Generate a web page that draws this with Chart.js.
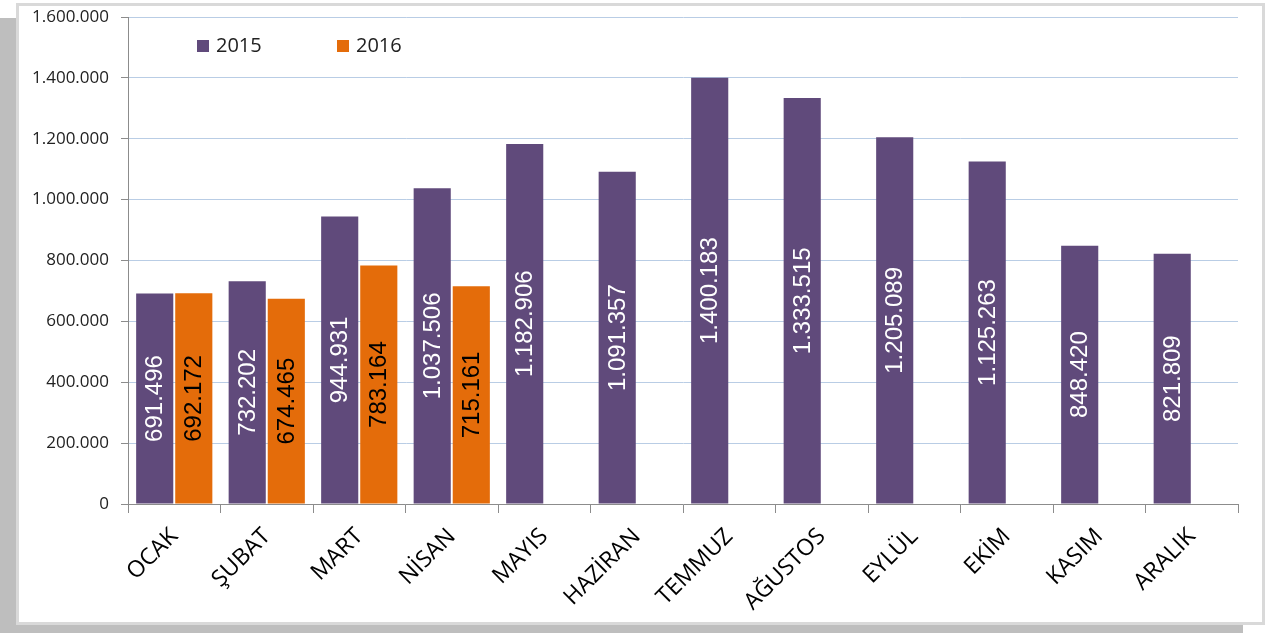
<!DOCTYPE html>
<html>
<head>
<meta charset="utf-8">
<script src="https://cdn.jsdelivr.net/npm/chart.js@4/dist/chart.umd.min.js"></script>
<style>
  html, body { margin: 0; padding: 0; background: #fff; }
  #wrap { position: relative; width: 1275px; height: 633px; overflow: hidden; }
  #shadow { position: absolute; left: 0; top: 18px; width: 1243px; height: 615px; background: #bebebe; }
  #panel { position: absolute; left: 16px; top: 3px; width: 1243px; height: 616px; background: #fff; border: 3px solid #d9d9d9; }
  #chart { position: absolute; left: 0; top: 0; }
</style>
</head>
<body>
<div id="wrap">
  <div id="shadow"></div>
  <div id="panel"></div>
  <canvas id="chart" width="1275" height="633"></canvas>
</div>
<script>
// aylar
const months = ['OCAK', 'ŞUBAT', 'MART', 'NİSAN', 'MAYIS', 'HAZİRAN', 'TEMMUZ', 'AĞUSTOS', 'EYLÜL', 'EKİM', 'KASIM', 'ARALIK'];

// 2015 değerleri
const values2015 = [691496, 732202, 944931, 1037506, 1182906, 1091357, 1400183, 1333515, 1205089, 1125263, 848420, 821809];

// 2016 değerleri (ilk dört ay)
const values2016 = [692172, 674465, 783164, 715161, null, null, null, null, null, null, null, null];

const seriesNames = ['2015', '2016'];
const seriesColors = ['#604a7b', '#e46c0a'];
const labelColors = ['#ffffff', '#000000'];

const yMax = 1600000;
const yStep = 200000;

const FONT = '"Open Sans", "Noto Sans", sans-serif';

// binlik ayırıcı nokta
function formatNumber(n) {
    return String(n).replace(/\B(?=(\d{3})+(?!\d))/g, '.');
}

// çubuk içi dikey etiketler
const barLabels = {
    id: 'barLabels',
    afterDatasetsDraw(chart) {
        const ctx = chart.ctx;
        ctx.save();
        ctx.font = '24px "Liberation Sans", Arial, sans-serif';
        ctx.textAlign = 'center';
        ctx.textBaseline = 'middle';
        chart.data.datasets.forEach((ds, i) => {
            const meta = chart.getDatasetMeta(i);
            meta.data.forEach((bar, j) => {
                const v = ds.data[j];
                if (v == null) return;
                const cy = (bar.y + bar.base) / 2;
                ctx.save();
                ctx.translate(bar.x, cy);
                ctx.rotate(-Math.PI / 2);
                ctx.fillStyle = labelColors[i];
                ctx.fillText(formatNumber(v), 0, 1);
                ctx.restore();
            });
        });
        ctx.restore();
    }
};

// grafik içi lejant
const insideLegend = {
    id: 'insideLegend',
    afterDraw(chart) {
        const ctx = chart.ctx;
        const area = chart.chartArea;
        ctx.save();
        ctx.font = '20px ' + FONT;
        ctx.textBaseline = 'middle';
        seriesNames.forEach((name, i) => {
            const x = area.left + 69 + i * 140;
            const y = area.top + 29;
            ctx.fillStyle = seriesColors[i];
            ctx.fillRect(x, y - 6, 12, 12);
            ctx.fillStyle = '#222';
            ctx.fillText(name, x + 19, y);
        });
        ctx.restore();
    }
};

function draw() {
    const ctx = document.getElementById('chart').getContext('2d');
    new Chart(ctx, {
        type: 'bar',
        data: {
            labels: months,
            datasets: [
                { label: seriesNames[0], data: values2015, backgroundColor: seriesColors[0] },
                { label: seriesNames[1], data: values2016, backgroundColor: seriesColors[1] }
            ]
        },
        options: {
            responsive: false,
            animation: false,
            categoryPercentage: 0.845,
            barPercentage: 0.95,
            layout: { padding: { left: 0, right: 37, top: 17, bottom: 0 } },
            plugins: {
                legend: { display: false },
                tooltip: { enabled: false }
            },
            scales: {
                x: {
                    afterFit(scale) {
                        scale.height = 129;
                        scale.paddingLeft = 0;
                        scale.paddingRight = 0;
                    },
                    grid: { drawOnChartArea: false, tickLength: 9, color: '#8c8c8c', offset: true },
                    border: { color: '#8c8c8c', width: 1 },
                    ticks: {
                        minRotation: 45,
                        maxRotation: 45,
                        padding: 10,
                        color: '#000',
                        font: { family: FONT, size: 23 }
                    }
                },
                y: {
                    min: 0,
                    max: yMax,
                    afterFit(scale) {
                        scale.width = 128;
                        scale.paddingTop = 0;
                        scale.paddingBottom = 0;
                    },
                    grid: { color: '#b9cde5', tickColor: '#8c8c8c', tickLength: 7 },
                    border: { color: '#8c8c8c', width: 1 },
                    ticks: {
                        stepSize: yStep,
                        padding: 12,
                        color: '#222',
                        font: { family: FONT, size: 17 },
                        callback: v => formatNumber(v)
                    }
                }
            }
        },
        plugins: [barLabels, insideLegend]
    });
}

// yazı tipleri hazır olunca çiz
Promise.all([
    document.fonts.load('20px "Open Sans"'),
    document.fonts.load('24px "Liberation Sans"')
]).then(draw, draw);
</script>
</body>
</html>
